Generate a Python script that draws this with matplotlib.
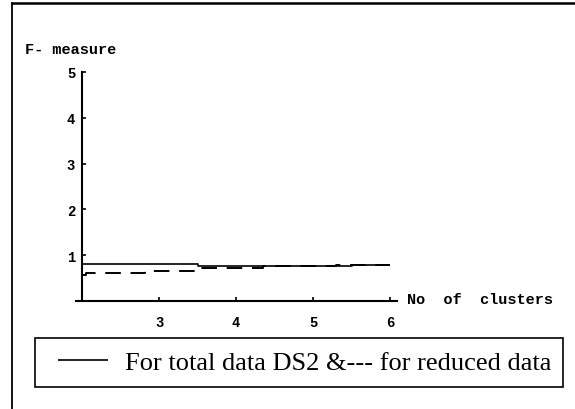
import matplotlib
matplotlib.use("Agg")
import matplotlib.pyplot as plt
from matplotlib.lines import Line2D
from matplotlib.patches import Rectangle

# Data (step-like curves)
total_x = [2.0, 3.5, 5.5, 6.0]
total_y = [0.80, 0.76, 0.79, 0.79]
reduced_x = [2.0, 2.05, 2.82, 3.5, 4.35, 5.3, 5.47, 6.0]
reduced_y = [0.57, 0.61, 0.66, 0.72, 0.76, 0.79, 0.79, 0.79]
x_ticks = [3, 4, 5, 6]
y_ticks = [1, 2, 3, 4, 5]
x_label = "No  of  clusters"
y_label = "F- measure"
legend_label = "For total data DS2 &--- for reduced data"

W, H = 575, 410
fig = plt.figure(figsize=(W / 100, H / 100), dpi=100)

def fx(px):
    return px / W

def fy(py):
    return 1 - py / H

ax = fig.add_axes([fx(76), fy(302), (397 - 76) / W, (302 - 73) / H])
ax.set_xlim(1.92, 6.09)
ax.set_ylim(0, 5.0)

for s in ("top", "right"):
    ax.spines[s].set_visible(False)
ax.spines["left"].set_position(("data", 2.0))
ax.spines["bottom"].set_position(("data", 0.0))
for s in ("left", "bottom"):
    ax.spines[s].set_linewidth(1.5)
    ax.spines[s].set_color("black")

mono = {"family": "Liberation Mono", "weight": "bold"}

ax.set_xticks(x_ticks)
ax.set_yticks(y_ticks)
ax.set_xticklabels([str(v) for v in x_ticks], fontdict=dict(mono, size=10))
ax.set_yticklabels([str(v) for v in y_ticks], fontdict=dict(mono, size=10))
ax.tick_params(axis="x", direction="in", length=3, width=1.2, pad=10)
ax.tick_params(axis="y", direction="in", length=3, width=1.2, pad=5)

solid, = ax.plot(total_x, total_y, color="black", lw=1.2,
                 drawstyle="steps-post", solid_capstyle="butt")
ax.plot(reduced_x, reduced_y, color="black", lw=1.4,
        drawstyle="steps-post", linestyle=(0, (8, 5)))

fig.text(fx(25), fy(50), y_label, ha="left", va="center",
         fontdict=dict(mono, size=11))
fig.text(fx(407), fy(300), x_label, ha="left", va="center",
         fontdict=dict(mono, size=11))

# Outer frame (top and left edges visible)
fig.add_artist(Line2D([fx(12), 1.0], [fy(4), fy(4)], color="black", lw=1.8,
                      transform=fig.transFigure))
fig.add_artist(Line2D([fx(12), fx(12)], [fy(4), 0.0], color="black", lw=1.3,
                      transform=fig.transFigure))

# Legend box
fig.add_artist(Rectangle((fx(35), fy(388)), (563 - 35) / W, (388 - 339) / H,
                         fill=False, edgecolor="black", lw=1.2,
                         transform=fig.transFigure))
fs = 19
fs_px = fs * 100 / 72
fig.legend(handles=[solid], labels=[legend_label], loc="center left",
           bbox_to_anchor=(fx(58), fy(363)), frameon=False,
           borderpad=0, borderaxespad=0,
           handlelength=50 / fs_px, handletextpad=17 / fs_px,
           prop={"family": "Liberation Serif", "size": fs})

fig.savefig("out.png", dpi=100)
